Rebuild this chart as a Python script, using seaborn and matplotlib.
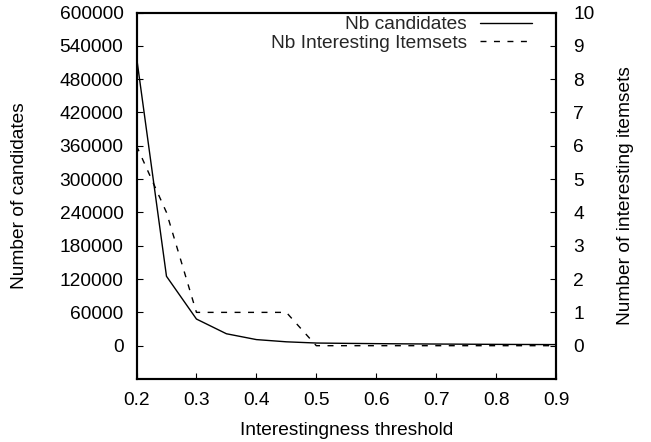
import numpy as np
import pandas as pd
import matplotlib
matplotlib.use('Agg')
import matplotlib.pyplot as plt
import seaborn as sns

#%%
thresholds = [0.2, 0.25, 0.3, 0.35, 0.4, 0.45, 0.5, 0.55, 0.6, 0.65, 0.7, 0.75, 0.8, 0.85, 0.9]
nb_candidates = [520000, 125000, 48000, 21500, 11000, 7000, 4800, 4200, 3700, 3300, 3000, 2700, 2400, 2200, 2000]
nb_itemsets = [6, 4, 1, 1, 1, 1, 0, 0, 0, 0, 0, 0, 0, 0, 0]

left_ticks = list(range(0, 600001, 60000))
right_ticks = list(range(0, 11))

df = pd.DataFrame({'threshold': thresholds,
                   'candidates': nb_candidates,
                   'itemsets': nb_itemsets})

#%%
sns.set_style('ticks')
plt.rcParams['font.family'] = ['Liberation Sans', 'DejaVu Sans']
plt.rcParams['font.size'] = 13.8

fig = plt.figure(figsize=(6.51, 4.42), dpi=100)
ax = fig.add_axes([0.2097, 0.1425, 0.6444, 0.8292])
ax2 = ax.twinx()

sns.lineplot(data=df, x='threshold', y='candidates', ax=ax, color='black',
             lw=1.0, label='Nb candidates', legend=False)
sns.lineplot(data=df, x='threshold', y='itemsets', ax=ax2, color='black',
             lw=1.0, label='Nb Interesting Itemsets', legend=False)
ax2.lines[0].set_dashes((4.3, 5.4))

ax.set_xlim(0.2, 0.9)
ax.set_ylim(-60000, 600000)
ax2.set_ylim(-1, 10)
ax.set_xticks(np.arange(0.2, 0.91, 0.1))
ax.set_xticklabels([f'{t:.1f}' for t in np.arange(0.2, 0.91, 0.1)])
ax.set_yticks(left_ticks)
ax.set_yticklabels([str(t) for t in left_ticks])
ax2.set_yticks(right_ticks)
ax2.set_yticklabels([str(t) for t in right_ticks])

for a in (ax, ax2):
    for s in a.spines.values():
        s.set_visible(True)
        s.set_linewidth(1.5)
        s.set_color('black')
ax.tick_params(axis='x', direction='in', length=4.5, width=0.8, pad=9, colors='black')
ax.tick_params(axis='y', direction='in', length=4.5, width=0.8, pad=9.4, colors='black')
ax2.tick_params(axis='y', direction='in', length=4.5, width=0.8, pad=12.5, colors='black')

ax.set_xlabel('Interestingness threshold', color='black')
ax.set_ylabel('Number of candidates', color='black')
ax2.set_ylabel('Number of interesting itemsets', color='black')
ax.xaxis.set_label_coords(0.5, -0.117)
ax.yaxis.set_label_coords(-0.258, 0.5)
ax2.yaxis.set_label_coords(1.145, 0.5)

h1, l1 = ax.get_legend_handles_labels()
h2, l2 = ax2.get_legend_handles_labels()
ax2.legend(h1 + h2, l1 + l2, loc='upper right', frameon=False,
           markerfirst=False, handlelength=2.7, handletextpad=0.68,
           labelspacing=0.05, borderpad=0, borderaxespad=0,
           bbox_to_anchor=(531.7 / 651, 1 - 16 / 442),
           bbox_transform=fig.transFigure)

plt.savefig('out.png', dpi=100)
